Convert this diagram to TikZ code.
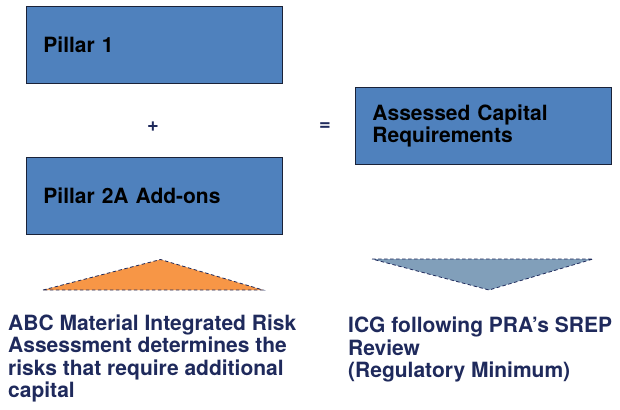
\documentclass[tikz,border=0pt]{standalone}
\usepackage{fontspec}
\setmainfont{TeX Gyre Heros}
\definecolor{boxblue}{HTML}{4F81BD}
\definecolor{navy}{HTML}{1F2A5C}
\definecolor{orng}{HTML}{F79646}
\definecolor{steel}{HTML}{819FBA}
\definecolor{edge}{HTML}{1A2238}
\tikzset{
  bigbox/.style={draw=edge, line width=0.9pt, fill=boxblue, minimum width=256pt, minimum height=77pt,
    text width=222pt, inner xsep=17pt, inner ysep=0pt, align=left, anchor=north west,
    font=\fontsize{21}{22.7}\selectfont\bfseries, text=black},
  tri/.style={draw=navy, line width=0.8pt, dash pattern=on 3.5pt off 2.5pt},
  label/.style={anchor=base west, align=left, inner sep=0pt, text=navy,
    font=\fontsize{21}{22.3}\selectfont\bfseries},
  op/.style={text=navy, font=\fontsize{20}{22}\selectfont\bfseries, inner sep=0pt}
}
\begin{document}
\begin{tikzpicture}[x=1pt,y=-1pt]
\useasboundingbox (0,0) rectangle (620,409);
\node[bigbox] (p1) at (26,6) {Pillar 1};
\node[bigbox] (p2) at (26,157) {Pillar 2A Add-ons};
\node[bigbox] (acr) at (355,87) {Assessed Capital\\Requirements};
\node[op] (plus) at (153,127) {+};
\node[op] (eq) at (325,127) {=};
\coordinate (ol) at (43,290);
\coordinate (or) at (263,290);
\coordinate (oa) at (160.5,259.5);
\filldraw[tri, fill=orng] (ol) -- (oa) -- (or) -- cycle;
\coordinate (gl) at (372,259);
\coordinate (gr) at (593,259);
\coordinate (ga) at (489,290);
\filldraw[tri, fill=steel] (gl) -- (gr) -- (ga) -- cycle;
\node[label] (lt) at (8,397.5) {ABC Material Integrated Risk\\Assessment determines the\\risks that require additional\\capital};
\node[label] (rt) at (348,377.5) {ICG following PRA’s SREP\\Review\\(Regulatory Minimum)};
\end{tikzpicture}
\end{document}
